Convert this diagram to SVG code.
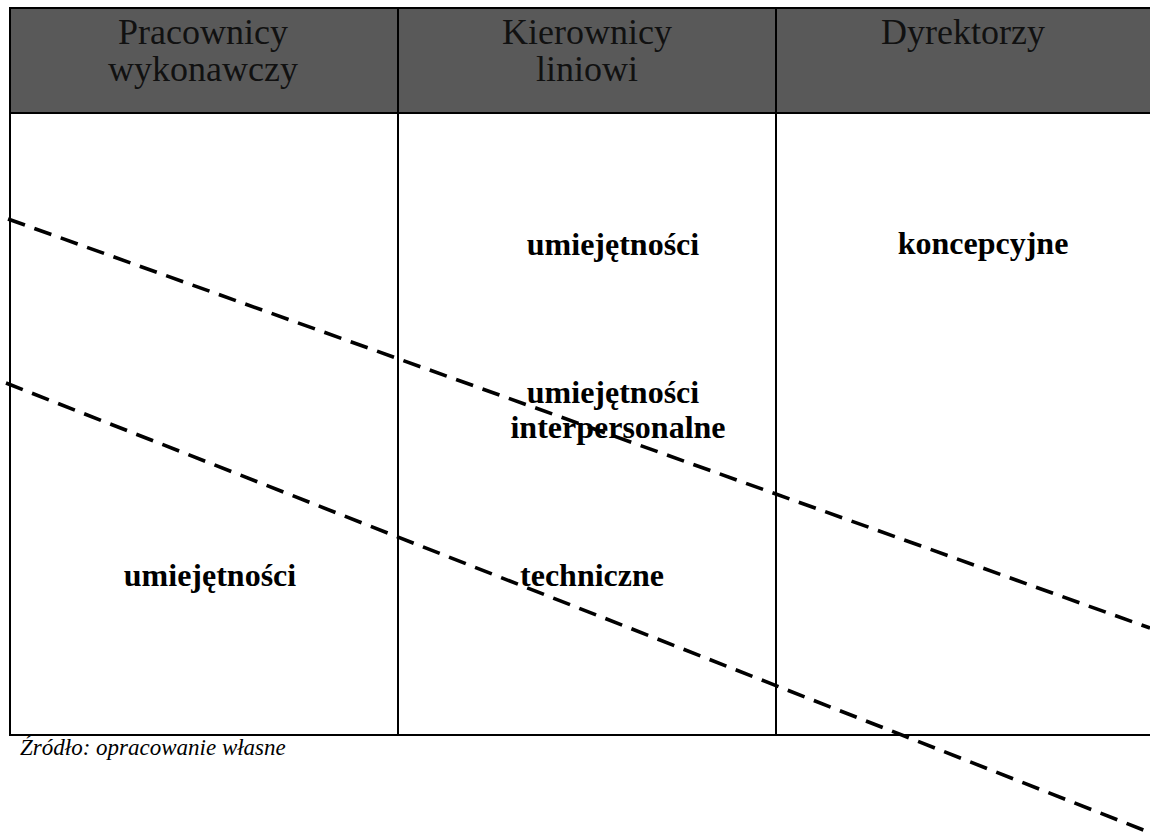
<svg xmlns="http://www.w3.org/2000/svg" width="1150" height="832" viewBox="0 0 1150 832">
  <style>
    .head { font-family: "Liberation Serif", "Times New Roman", serif; font-size: 36px; fill: #111; text-anchor: middle; }
    .lbl { font-family: "Liberation Serif", "Times New Roman", serif; font-size: 32px; font-weight: bold; fill: #000; text-anchor: middle; }
    .src { font-family: "Liberation Serif", "Times New Roman", serif; font-size: 23px; font-style: italic; fill: #000; }
    .rule { stroke: #000; stroke-width: 2; fill: none; }
    .dash { stroke: #000; stroke-width: 3.6; stroke-dasharray: 18 10; fill: none; }
  </style>
  <rect width="1150" height="832" fill="#fff"/>

  <!-- table frame and header band -->
  <g id="table">
    <rect x="10" y="8" width="1142" height="105" fill="#595959"/>
    <rect class="rule" x="10" y="8" width="1142" height="727"/>
    <line class="rule" x1="10" y1="113" x2="1152" y2="113"/>
    <line class="rule" x1="398" y1="8" x2="398" y2="735"/>
    <line class="rule" x1="776" y1="8" x2="776" y2="735"/>
  </g>

  <g id="col-pracownicy">
    <text class="head" x="203" y="44">Pracownicy</text>
    <text class="head" x="203" y="81">wykonawczy</text>
  </g>
  <g id="col-kierownicy">
    <text class="head" x="587" y="44">Kierownicy</text>
    <text class="head" x="587" y="81">liniowi</text>
  </g>
  <g id="col-dyrektorzy">
    <text class="head" x="963" y="44">Dyrektorzy</text>
  </g>

  <!-- skill bands -->
  <g id="skill-conceptual">
    <text class="lbl" x="613" y="255">umiejętności</text>
    <text class="lbl" x="983" y="254">koncepcyjne</text>
  </g>
  <g id="skill-interpersonal">
    <text class="lbl" x="613" y="403">umiejętności</text>
    <text class="lbl" x="618" y="438">interpersonalne</text>
  </g>
  <g id="skill-technical">
    <text class="lbl" x="210" y="586">umiejętności</text>
    <text class="lbl" x="592" y="586">techniczne</text>
  </g>

  <!-- dividing lines between skill bands -->
  <g id="connectors">
    <line class="dash" x1="8" y1="219" x2="1150" y2="628"/>
    <line class="dash" x1="6" y1="383" x2="1146" y2="831"/>
  </g>

  <text class="src" x="20" y="755">Źródło: opracowanie własne</text>
</svg>
